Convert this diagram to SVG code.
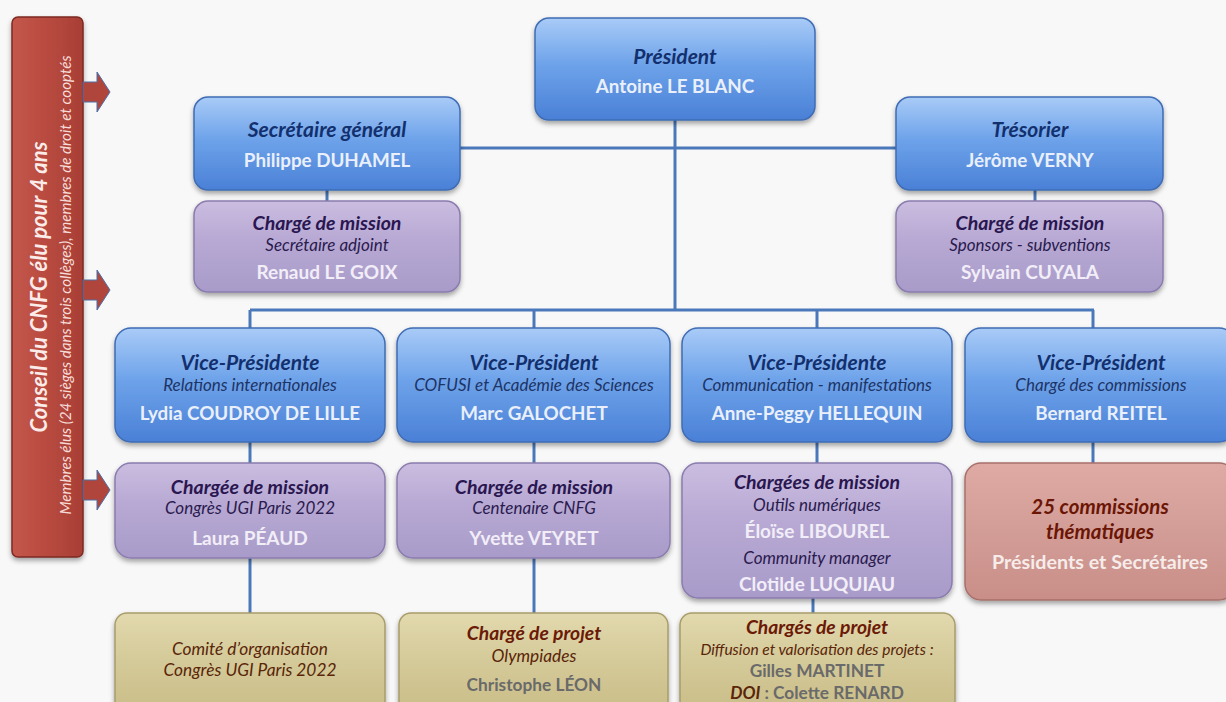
<svg xmlns="http://www.w3.org/2000/svg" width="1226" height="702" viewBox="0 0 1226 702">
<defs>
<linearGradient id="gBlue" x1="0" y1="0" x2="0" y2="1">
<stop offset="0" stop-color="#a9cbf7"/><stop offset="0.45" stop-color="#6ea3ea"/><stop offset="1" stop-color="#4a80d6"/>
</linearGradient>
<linearGradient id="gPurple" x1="0" y1="0" x2="0" y2="1">
<stop offset="0" stop-color="#cbbde0"/><stop offset="0.4" stop-color="#b8aad4"/><stop offset="1" stop-color="#a99bc9"/>
</linearGradient>
<linearGradient id="gRed" x1="0" y1="0" x2="0" y2="1">
<stop offset="0" stop-color="#e0aaa4"/><stop offset="0.4" stop-color="#d5a09a"/><stop offset="1" stop-color="#c98e88"/>
</linearGradient>
<linearGradient id="gKhaki" x1="0" y1="0" x2="0" y2="1">
<stop offset="0" stop-color="#e2d9ae"/><stop offset="0.4" stop-color="#d6cc9c"/><stop offset="1" stop-color="#c9bd87"/>
</linearGradient>
<linearGradient id="gBar" x1="0" y1="0" x2="1" y2="0">
<stop offset="0" stop-color="#c4574b"/><stop offset="0.5" stop-color="#b84a3f"/><stop offset="1" stop-color="#a83f35"/>
</linearGradient>
<filter id="sh" x="-10%" y="-10%" width="120%" height="130%">
<feDropShadow dx="0" dy="3" stdDeviation="2.5" flood-color="#000" flood-opacity="0.35"/>
</filter>
<g id="arrow">
<path d="M83,-10 H97 V-20 L110,0 L97,20 V10 H83 Z" fill="#b0463b" stroke="#4a6fa8" stroke-width="1"/>
</g>
</defs>
<style>
.blue{fill:url(#gBlue);stroke:#3f6cb4;stroke-width:1.5;filter:url(#sh)}
.purple{fill:url(#gPurple);stroke:#8a7cad;stroke-width:1.5;filter:url(#sh)}
.red{fill:url(#gRed);stroke:#a8706a;stroke-width:1.5;filter:url(#sh)}
.khaki{fill:url(#gKhaki);stroke:#a89c6a;stroke-width:1.5;filter:url(#sh)}
text{font-family:"Lato","Open Sans","Liberation Sans",sans-serif;text-anchor:middle}
.t1{font-weight:bold;font-style:italic;font-size:21px;fill:#13306e}
.n1{font-weight:bold;font-size:18.8px;fill:#eaf0fb}
.s1{font-style:italic;font-size:17px;fill:#1d3466}
.t2{font-weight:bold;font-style:italic;font-size:19.5px;fill:#2a1650}
.s2{font-style:italic;font-size:17px;fill:#2a1a4e}
.n2{font-weight:bold;font-size:19px;fill:#f2eef8}
.t3{font-weight:bold;font-style:italic;font-size:20.5px;fill:#6b1605}
.n3{font-weight:bold;font-size:19.7px;fill:#f6ecea}
.t4{font-weight:bold;font-style:italic;font-size:19.3px;fill:#6b1a06}
.s4{font-style:italic;font-size:17.3px;fill:#5a2508}
.n4{font-weight:bold;font-size:17.3px;fill:#6a6a6a}
.conn{stroke:#4a78ba;stroke-width:3;fill:none}
</style>
<rect width="1226" height="702" fill="#f8f8f8"/>

<g id="council">
<rect x="12" y="17" width="71" height="540" rx="6" fill="url(#gBar)" stroke="#7e2a22" stroke-width="1.5" filter="url(#sh)"/>
<text transform="translate(47,287) rotate(-90)" style="font-weight:bold;font-style:italic;font-size:22px;fill:#fbecea">Conseil du CNFG élu pour 4 ans</text>
<text transform="translate(71,285) rotate(-90)" style="font-style:italic;font-size:15.2px;fill:#f6dcd8">Membres élus (24 sièges dans trois collèges), membres de droit et cooptés</text>
<use href="#arrow" y="92"/>
<use href="#arrow" y="290"/>
<use href="#arrow" y="490"/>
</g>

<g id="connectors">
<path class="conn" d="M675,120 V310"/>
<path class="conn" d="M460,148 H896"/>
<path class="conn" d="M327,190 V201"/>
<path class="conn" d="M1035,190 V201"/>
<path class="conn" d="M250,310 H1094"/>
<path class="conn" d="M250,310 V328 M534,310 V328 M817,310 V328 M1093,310 V328"/>
<path class="conn" d="M250,442 V463 M534,442 V463 M817,442 V463 M1093,442 V463"/>
<path class="conn" d="M250,558 V613 M534,558 V613 M813,598 V613"/>
</g>

<g id="president">
<rect class="blue" x="535" y="18" width="280" height="102" rx="14"/>
<text class="t1" x="675" y="64">Président</text>
<text class="n1" x="675" y="93">Antoine LE BLANC</text>
</g>
<g id="secretaire">
<rect class="blue" x="194" y="97" width="266" height="93" rx="14"/>
<text class="t1" x="327" y="137">Secrétaire général</text>
<text class="n1" x="327" y="167">Philippe DUHAMEL</text>
</g>
<g id="tresorier">
<rect class="blue" x="896" y="97" width="267" height="93" rx="14"/>
<text class="t1" x="1030" y="137">Trésorier</text>
<text class="n1" x="1030" y="167">Jérôme VERNY</text>
</g>
<g id="cm-secretaire">
<rect class="purple" x="194" y="201" width="266" height="91" rx="14"/>
<text class="t2" x="327" y="230">Chargé de mission</text>
<text class="s2" x="327" y="251">Secrétaire adjoint</text>
<text class="n2" x="327" y="279">Renaud LE GOIX</text>
</g>
<g id="cm-tresorier">
<rect class="purple" x="896" y="201" width="267" height="91" rx="14"/>
<text class="t2" x="1030" y="230">Chargé de mission</text>
<text class="s2" x="1030" y="251">Sponsors - subventions</text>
<text class="n2" x="1030" y="279">Sylvain CUYALA</text>
</g>

<g id="vp1">
<rect class="blue" x="115" y="328" width="270" height="114" rx="16"/>
<text class="t1" x="250" y="370">Vice-Présidente</text>
<text class="s1" x="250" y="391">Relations internationales</text>
<text class="n1" x="250" y="420">Lydia COUDROY DE LILLE</text>
</g>
<g id="vp2">
<rect class="blue" x="397" y="328" width="273" height="114" rx="16"/>
<text class="t1" x="534" y="370">Vice-Président</text>
<text class="s1" x="534" y="391">COFUSI et Académie des Sciences</text>
<text class="n1" x="534" y="420">Marc GALOCHET</text>
</g>
<g id="vp3">
<rect class="blue" x="682" y="328" width="270" height="114" rx="16"/>
<text class="t1" x="817" y="370">Vice-Présidente</text>
<text class="s1" x="817" y="391">Communication - manifestations</text>
<text class="n1" x="817" y="420">Anne-Peggy HELLEQUIN</text>
</g>
<g id="vp4">
<rect class="blue" x="965" y="328" width="270" height="114" rx="16"/>
<text class="t1" x="1101" y="370">Vice-Président</text>
<text class="s1" x="1101" y="391">Chargé des commissions</text>
<text class="n1" x="1101" y="420">Bernard REITEL</text>
</g>

<g id="cm-vp1">
<rect class="purple" x="115" y="463" width="270" height="95" rx="16"/>
<text class="t2" x="250" y="494">Chargée de mission</text>
<text class="s2" x="250" y="514">Congrès UGI Paris 2022</text>
<text class="n2" x="250" y="545">Laura PÉAUD</text>
</g>
<g id="cm-vp2">
<rect class="purple" x="397" y="463" width="273" height="95" rx="16"/>
<text class="t2" x="534" y="494">Chargée de mission</text>
<text class="s2" x="534" y="514">Centenaire CNFG</text>
<text class="n2" x="534" y="545">Yvette VEYRET</text>
</g>
<g id="cm-vp3">
<rect class="purple" x="682" y="463" width="270" height="135" rx="16"/>
<text class="t2" x="817" y="489">Chargées de mission</text>
<text class="s2" x="817" y="511">Outils numériques</text>
<text class="n2" x="817" y="538">Éloïse LIBOUREL</text>
<text class="s2" x="817" y="564">Community manager</text>
<text class="n2" x="817" y="591">Clotilde LUQUIAU</text>
</g>
<g id="commissions">
<rect class="red" x="965" y="463" width="270" height="137" rx="16"/>
<text class="t3" x="1100" y="514">25 commissions</text>
<text class="t3" x="1100" y="539">thématiques</text>
<text class="n3" x="1100" y="569">Présidents et Secrétaires</text>
</g>

<g id="comite">
<rect class="khaki" x="115" y="613" width="270" height="100" rx="12"/>
<text class="s4" x="250" y="655">Comité d’organisation</text>
<text class="s4" x="250" y="676">Congrès UGI Paris 2022</text>
</g>
<g id="projet-olympiades">
<rect class="khaki" x="399" y="613" width="269" height="100" rx="12"/>
<text class="t4" x="534" y="640">Chargé de projet</text>
<text class="s4" x="534" y="662">Olympiades</text>
<text class="n4" x="534" y="691">Christophe LÉON</text>
</g>
<g id="projet-diffusion">
<rect class="khaki" x="680" y="613" width="275" height="100" rx="12"/>
<text class="t4" x="817" y="634">Chargés de projet</text>
<text class="s4" x="817" y="655" style="font-size:15.5px">Diffusion et valorisation des projets :</text>
<text class="n4" x="817" y="677">Gilles MARTINET</text>
<text class="n4" x="817" y="699"><tspan style="font-style:italic;fill:#5a2508">DOI</tspan> : Colette RENARD</text>
</g>
</svg>
